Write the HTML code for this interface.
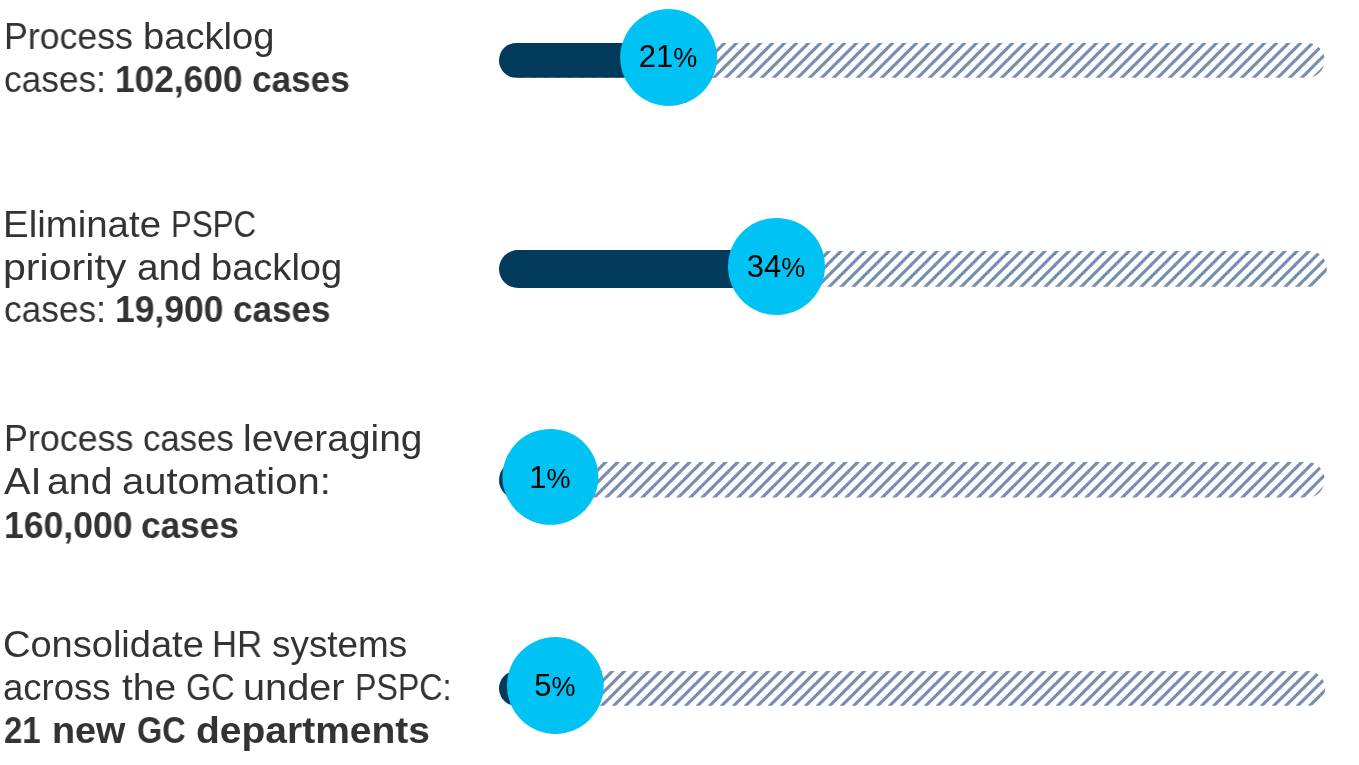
<!DOCTYPE html>
<html><head><meta charset="utf-8"><style>
html,body{margin:0;padding:0;background:#fff;}
body{width:1359px;height:765px;position:relative;overflow:hidden;font-family:"Liberation Sans",sans-serif;}
.l{position:absolute;transform-origin:0 0;white-space:nowrap;will-change:transform;font-size:36px;line-height:36px;color:#333333;}
.l b{font-weight:bold;}
.p{position:absolute;white-space:nowrap;will-change:transform;font-size:31px;line-height:32px;color:#000;text-align:center;width:120px;}
.p span{font-size:27px;}
svg{position:absolute;left:0;top:0;}
</style></head><body>

<div class="l" style="left:3.97px;top:18.90px;transform:scaleX(0.9914)">Process</div>
<div class="l" style="left:143.28px;top:18.90px;transform:scaleX(1.0589)">backlog</div>
<div class="l" style="left:3.76px;top:62.10px;transform:scaleX(0.9800)">cases:</div>
<div class="l" style="left:115.48px;top:62.10px;transform:scaleX(0.9806)"><b>102,600</b></div>
<div class="l" style="left:252.07px;top:62.10px;transform:scaleX(0.9781)"><b>cases</b></div>
<div class="l" style="left:3.36px;top:206.90px;transform:scaleX(1.0672)">Eliminate</div>
<div class="l" style="left:171.02px;top:206.90px;transform:scaleX(0.8682)">PSPC</div>
<div class="l" style="left:3.18px;top:249.70px;transform:scaleX(1.1421)">priority</div>
<div class="l" style="left:136.58px;top:249.70px;transform:scaleX(1.0789)">and</div>
<div class="l" style="left:211.48px;top:249.70px;transform:scaleX(1.0572)">backlog</div>
<div class="l" style="left:3.76px;top:292.40px;transform:scaleX(0.9800)">cases:</div>
<div class="l" style="left:115.47px;top:292.40px;transform:scaleX(0.9854)"><b>19,900</b></div>
<div class="l" style="left:232.97px;top:292.40px;transform:scaleX(0.9750)"><b>cases</b></div>
<div class="l" style="left:3.66px;top:421.20px;transform:scaleX(0.9954)">Process</div>
<div class="l" style="left:142.58px;top:421.20px;transform:scaleX(0.9654)">cases</div>
<div class="l" style="left:243.36px;top:421.20px;transform:scaleX(1.0805)">leveraging</div>
<div class="l" style="left:3.84px;top:464.20px;transform:scaleX(1.1069)">AI</div>
<div class="l" style="left:47.46px;top:464.20px;transform:scaleX(1.0895)">and</div>
<div class="l" style="left:121.93px;top:464.20px;transform:scaleX(1.1097)">automation:</div>
<div class="l" style="left:3.96px;top:507.70px;transform:scaleX(0.9885)"><b>160,000</b></div>
<div class="l" style="left:140.97px;top:507.70px;transform:scaleX(0.9781)"><b>cases</b></div>
<div class="l" style="left:3.31px;top:626.70px;transform:scaleX(1.0562)">Consolidate</div>
<div class="l" style="left:212.25px;top:626.70px;transform:scaleX(0.9650)">HR</div>
<div class="l" style="left:271.54px;top:626.70px;transform:scaleX(1.0246)">systems</div>
<div class="l" style="left:3.48px;top:669.90px;transform:scaleX(1.0141)">across</div>
<div class="l" style="left:121.88px;top:669.90px;transform:scaleX(1.0808)">the</div>
<div class="l" style="left:185.59px;top:669.90px;transform:scaleX(0.9012)">GC</div>
<div class="l" style="left:242.77px;top:669.90px;transform:scaleX(1.1022)">under</div>
<div class="l" style="left:354.55px;top:669.90px;transform:scaleX(0.8933)">PSPC:</div>
<div class="l" style="left:4.02px;top:713.00px;transform:scaleX(0.9156)"><b>21</b></div>
<div class="l" style="left:51.66px;top:713.00px;transform:scaleX(1.0497)"><b>new</b></div>
<div class="l" style="left:137.43px;top:713.00px;transform:scaleX(0.9004)"><b>GC</b></div>
<div class="l" style="left:195.75px;top:713.00px;transform:scaleX(1.0832)"><b>departments</b></div>
<svg width="1359" height="765" viewBox="0 0 1359 765">
<defs>
<pattern id="h0" patternUnits="userSpaceOnUse" width="12.0" height="12.0">
<polygon fill="#788eae" points="9.30,-12.00 13.80,-12.00 -22.20,24.00 -26.70,24.00"/>
<polygon fill="#788eae" points="21.30,-12.00 25.80,-12.00 -10.20,24.00 -14.70,24.00"/>
<polygon fill="#788eae" points="33.30,-12.00 37.80,-12.00 1.80,24.00 -2.70,24.00"/>
<polygon fill="#788eae" points="45.30,-12.00 49.80,-12.00 13.80,24.00 9.30,24.00"/>
</pattern>
<pattern id="h1" patternUnits="userSpaceOnUse" width="12.0" height="12.0">
<polygon fill="#788eae" points="9.80,-12.00 14.30,-12.00 -21.70,24.00 -26.20,24.00"/>
<polygon fill="#788eae" points="21.80,-12.00 26.30,-12.00 -9.70,24.00 -14.20,24.00"/>
<polygon fill="#788eae" points="33.80,-12.00 38.30,-12.00 2.30,24.00 -2.20,24.00"/>
<polygon fill="#788eae" points="45.80,-12.00 50.30,-12.00 14.30,24.00 9.80,24.00"/>
</pattern>
<pattern id="h2" patternUnits="userSpaceOnUse" width="12.0" height="12.0">
<polygon fill="#788eae" points="9.60,-12.00 14.10,-12.00 -21.90,24.00 -26.40,24.00"/>
<polygon fill="#788eae" points="21.60,-12.00 26.10,-12.00 -9.90,24.00 -14.40,24.00"/>
<polygon fill="#788eae" points="33.60,-12.00 38.10,-12.00 2.10,24.00 -2.40,24.00"/>
<polygon fill="#788eae" points="45.60,-12.00 50.10,-12.00 14.10,24.00 9.60,24.00"/>
</pattern>
<pattern id="h3" patternUnits="userSpaceOnUse" width="12.0" height="12.0">
<polygon fill="#788eae" points="9.30,-12.00 13.80,-12.00 -22.20,24.00 -26.70,24.00"/>
<polygon fill="#788eae" points="21.30,-12.00 25.80,-12.00 -10.20,24.00 -14.70,24.00"/>
<polygon fill="#788eae" points="33.30,-12.00 37.80,-12.00 1.80,24.00 -2.70,24.00"/>
<polygon fill="#788eae" points="45.30,-12.00 49.80,-12.00 13.80,24.00 9.30,24.00"/>
</pattern>
</defs>
<rect x="499" y="42.9" width="825.70" height="34.80" rx="17.40" fill="url(#h0)"/>
<rect x="499" y="42.9" width="169.60" height="34.90" rx="17.45" fill="#023a5c"/>
<circle cx="668.6" cy="57.5" r="48.4" fill="#00c3f3"/>
<rect x="499" y="251.0" width="827.90" height="35.80" rx="17.90" fill="url(#h1)"/>
<rect x="499" y="250.0" width="277.50" height="38.00" rx="19.00" fill="#023a5c"/>
<circle cx="776.5" cy="266.4" r="48.5" fill="#00c3f3"/>
<rect x="499" y="462.0" width="825.70" height="35.60" rx="17.80" fill="url(#h2)"/>
<rect x="499" y="461.0" width="51.40" height="38.00" rx="19.00" fill="#023a5c"/>
<circle cx="550.4" cy="476.9" r="47.95" fill="#00c3f3"/>
<rect x="499" y="670.9" width="826.10" height="34.90" rx="17.45" fill="url(#h3)"/>
<rect x="499" y="670.9" width="56.30" height="34.90" rx="17.45" fill="#023a5c"/>
<circle cx="555.3" cy="685.5" r="48.4" fill="#00c3f3"/>
</svg>
<div class="p" style="left:607.60px;top:41.30px">21<span>%</span></div>
<div class="p" style="left:715.90px;top:251.10px">34<span>%</span></div>
<div class="p" style="left:490.40px;top:461.90px">1<span>%</span></div>
<div class="p" style="left:495.30px;top:669.50px">5<span>%</span></div>
</body></html>
